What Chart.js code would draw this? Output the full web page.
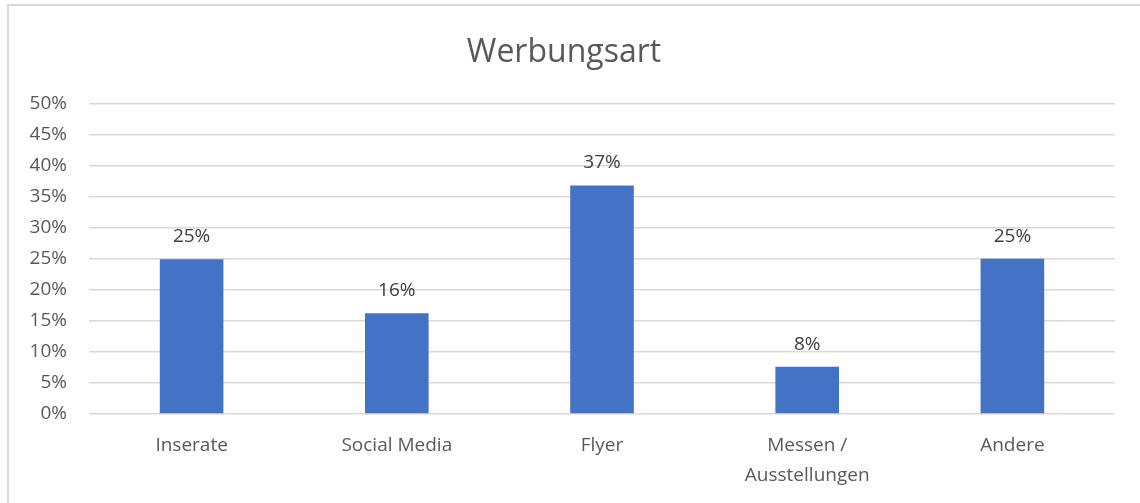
<!DOCTYPE html>
<html>
<head>
<meta charset="utf-8">
<script src="https://cdn.jsdelivr.net/npm/chart.js@4/dist/chart.umd.min.js"></script>
<style>
  html, body { margin: 0; padding: 0; background: #fff; }
  #wrap { position: relative; width: 1140px; height: 503px; overflow: hidden; }
  #frame { position: absolute; left: 7px; top: 4px; width: 1200px; height: 600px;
           border-top: 2px solid #d9d9d9; border-left: 2px solid #d9d9d9; box-sizing: border-box; }
  #chart { position: absolute; left: 0; top: 0; }
</style>
</head>
<body>
<div id="wrap">
  <div id="frame"></div>
  <canvas id="chart" width="1140" height="503"></canvas>
</div>
<script>
// Werbungsart chart

const categories = ['Inserate', 'Social Media', 'Flyer', ['Messen /', 'Ausstellungen'], 'Andere'];
const shares = [24.9, 16.2, 36.8, 7.6, 25.0];
const shareLabels = ['25%', '16%', '37%', '8%', '25%'];
const yTicks = [0, 5, 10, 15, 20, 25, 30, 35, 40, 45, 50];

const fontFamily = '"Open Sans", "Noto Sans", sans-serif';

const barLabels = {
    id: 'barLabels',
    afterDatasetsDraw(chart) {
        const ctx = chart.ctx;
        const meta = chart.getDatasetMeta(0);
        ctx.save();
        ctx.font = '19px ' + fontFamily;
        ctx.fillStyle = '#404040';
        ctx.textAlign = 'center';
        ctx.textBaseline = 'alphabetic';
        meta.data.forEach((bar, i) => {
            ctx.fillText(shareLabels[i], bar.x, bar.y - 17);
        });
        ctx.restore();
    }
};

const ctx = document.getElementById('chart').getContext('2d');
new Chart(ctx, {
    type: 'bar',
    data: {
        labels: categories,
        datasets: [{
            data: shares,
            backgroundColor: '#4472c4',
            borderWidth: 0,
            barPercentage: 0.31,
            categoryPercentage: 1
        }]
    },
    options: {
        responsive: false,
        animation: false,
        layout: { padding: { left: 13, right: 25, top: 34, bottom: 0 } },
        plugins: {
            legend: { display: false },
            tooltip: { enabled: false },
            title: {
                display: true,
                text: 'Werbungsart',
                color: '#595959',
                font: { family: fontFamily, size: 32, weight: 'normal', lineHeight: 1.2 },
                padding: { top: 0, bottom: 31 }
            }
        },
        scales: {
            x: {
                afterFit(scale) { scale.height = 89; },
                grid: { display: false },
                border: { display: false },
                ticks: {
                    color: '#595959',
                    font: { family: fontFamily, size: 19, lineHeight: 1.55 },
                    padding: 9,
                    maxRotation: 0
                }
            },
            y: {
                min: 0,
                max: 50,
                afterFit(scale) { scale.width = 76; },
                afterBuildTicks(scale) { scale.ticks = yTicks.map(v => ({ value: v })); },
                grid: { color: '#d9d9d9', lineWidth: 1.5, drawTicks: false },
                border: { display: false },
                ticks: {
                    color: '#595959',
                    font: { family: fontFamily, size: 19 },
                    padding: 22,
                    callback: v => v + '%'
                }
            }
        }
    },
    plugins: [barLabels]
});
</script>
</body>
</html>
